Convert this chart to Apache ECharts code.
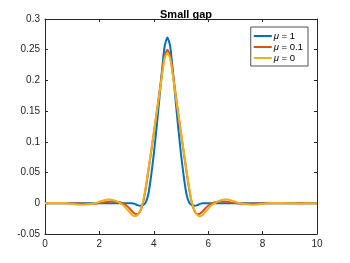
<!DOCTYPE html>
<html>
<head>
<meta charset="utf-8">
<script src="https://cdn.jsdelivr.net/npm/echarts@6/dist/echarts.min.js"></script>
<style>
html,body{margin:0;padding:0;background:#fff;}
#c{width:350px;height:263px;}
</style>
</head>
<body>
<div id="c"></div>
<script>
// x grid 0..10, step 0.1
var xValues = [];
for (var i = 0; i <= 100; i++) xValues.push(+(i / 10).toFixed(1));

var seriesNames = ['μ = 1', 'μ = 0.1', 'μ = 0'];

var mu1 = [
  0,0,0,0,0,0,0,0,0,0,
  0,0,0,0,0,0,0,0,0,0,
  0,0,0,0,0,0,0,0,0,0,
  0,0,0,
  -0.001,-0.003,-0.004,-0.003,0.001,0.015,0.044,0.080,0.122,0.168,0.215,0.256,0.270,
  0.256,0.215,0.168,0.122,0.080,0.044,0.015,0.001,-0.003,-0.004,-0.003,-0.001,
  0,0,0,0,0,0,0,0,0,0,
  0,0,0,0,0,0,0,0,0,0,
  0,0,0,0,0,0,0,0,0,0,
  0,0,0,0,0,0,0,0,0,0,
  0,0,0
];

var mu01 = [
  0,0,0,0,0,0,0,0,0,0,
  -0.0002,-0.0003,-0.0004,-0.0005,-0.0006,-0.0008,-0.0008,-0.0007,-0.0005,-0.0002,
  0.0003,0.001,0.0018,0.0025,0.003,0.003,0.0028,0.002,0.001,-0.001,
  -0.004,-0.008,-0.013,-0.017,-0.018,-0.013,0,0.023,0.052,0.083,
  0.114,0.146,0.179,0.212,0.240,0.250,
  0.240,0.212,0.179,0.146,0.114,0.083,0.052,0.023,0,-0.013,
  -0.018,-0.017,-0.013,-0.008,-0.004,-0.001,0.001,0.002,0.0028,0.003,
  0.003,0.0025,0.0018,0.001,0.0003,-0.0002,-0.0005,-0.0007,-0.0008,-0.0008,
  -0.0006,-0.0005,-0.0004,-0.0003,-0.0002,
  0,0,0,0,0,0,0,0,0,0,
  0,0,0,0,0,0,0,0,0,0
];

var mu0 = [
  0,0.0002,0.0004,0.0005,0.0006,0.0006,0.0005,0.0003,0,-0.0005,
  -0.001,-0.0015,-0.002,-0.0022,-0.0022,-0.002,-0.0017,-0.001,0,0.001,
  0.0025,0.004,0.0055,0.0062,0.0062,0.0055,0.004,0.002,-0.001,-0.004,
  -0.009,-0.014,-0.019,-0.021,-0.019,-0.012,0.002,0.026,0.055,0.085,
  0.115,0.145,0.176,0.208,0.236,0.245,
  0.236,0.208,0.176,0.145,0.115,0.085,0.055,0.026,0.002,-0.012,
  -0.019,-0.021,-0.019,-0.014,-0.009,-0.004,-0.001,0.002,0.004,0.0055,
  0.0062,0.0062,0.0055,0.004,0.0025,0.001,0,-0.001,-0.0017,-0.002,
  -0.0022,-0.0022,-0.002,-0.0015,-0.001,-0.0005,0,0.0003,0.0005,0.0006,
  0.0006,0.0005,0.0004,0.0002,0,
  0,-0.0001,-0.0002,-0.0002,-0.0002,-0.0001,0,0,0,0
];

var colors = ['#0072BD', '#D95319', '#EDB120'];
var xTicks = [0, 10, 2];      // min, max, interval
var yTicks = [-0.05, 0.3, 0.05];

function pairs(ys) { return xValues.map(function (x, i) { return [x, ys[i]]; }); }

var axisCol = '#262626';
var fontFam = '"Liberation Sans", Arial, Helvetica, sans-serif';

var chart = echarts.init(document.getElementById('c'), null, {renderer: 'canvas'});
var baseX = {type: 'value', min: xTicks[0], max: xTicks[1], interval: xTicks[2],
  axisLine: {show: true, onZero: false, lineStyle: {color: axisCol, width: 1}},
  axisTick: {show: true, inside: true, length: 3, lineStyle: {color: axisCol}},
  splitLine: {show: false}};
var baseY = {type: 'value', min: yTicks[0], max: yTicks[1], interval: yTicks[2],
  axisLine: {show: true, onZero: false, lineStyle: {color: axisCol, width: 1}},
  axisTick: {show: true, inside: true, length: 3, lineStyle: {color: axisCol}},
  splitLine: {show: false}};

chart.setOption({
  animation: false,
  color: colors,
  title: {text: 'Small gap', left: 181, top: 4, textAlign: 'center',
    textStyle: {fontSize: 11, fontWeight: 'bold', color: '#000', fontFamily: fontFam}},
  grid: {left: 45, right: 33, top: 19, bottom: 29, containLabel: false},
  legend: {
    right: 42, top: 27, orient: 'vertical', itemGap: 1,
    itemWidth: 18, itemHeight: 2, icon: 'rect',
    borderColor: '#262626', borderWidth: 0.8, padding: [4, 5, 3, 3],
    backgroundColor: '#fff',
    textStyle: {fontSize: 9.5, color: '#000', fontFamily: fontFam, padding: [0,0,0,-3],
      rich: {i: {fontStyle: 'italic', fontSize: 9.5, fontFamily: fontFam, color: '#000'}}},
    formatter: function (name) { return name.replace('μ', '{i|μ}'); },
    data: seriesNames
  },
  xAxis: [
    Object.assign({}, baseX, {position: 'bottom',
      axisLabel: {show: true, margin: 5, fontSize: 10, color: axisCol, fontFamily: fontFam}}),
    Object.assign({}, baseX, {position: 'top', axisLabel: {show: false}})
  ],
  yAxis: [
    Object.assign({}, baseY, {position: 'left',
      axisLabel: {show: true, margin: 5, fontSize: 10, color: axisCol, fontFamily: fontFam,
        formatter: function (v) { return String(+v.toFixed(2)); }}}),
    Object.assign({}, baseY, {position: 'right', axisLabel: {show: false}})
  ],
  series: [
    {name: seriesNames[0], type: 'line', data: pairs(mu1), showSymbol: false, symbol: 'none', smooth: 0.2, lineStyle: {width: 2}, z: 2},
    {name: seriesNames[1], type: 'line', data: pairs(mu01), showSymbol: false, symbol: 'none', smooth: 0.2, lineStyle: {width: 2}, z: 3},
    {name: seriesNames[2], type: 'line', data: pairs(mu0), showSymbol: false, symbol: 'none', smooth: 0.2, lineStyle: {width: 2}, z: 4}
  ]
});
</script>
</body>
</html>
